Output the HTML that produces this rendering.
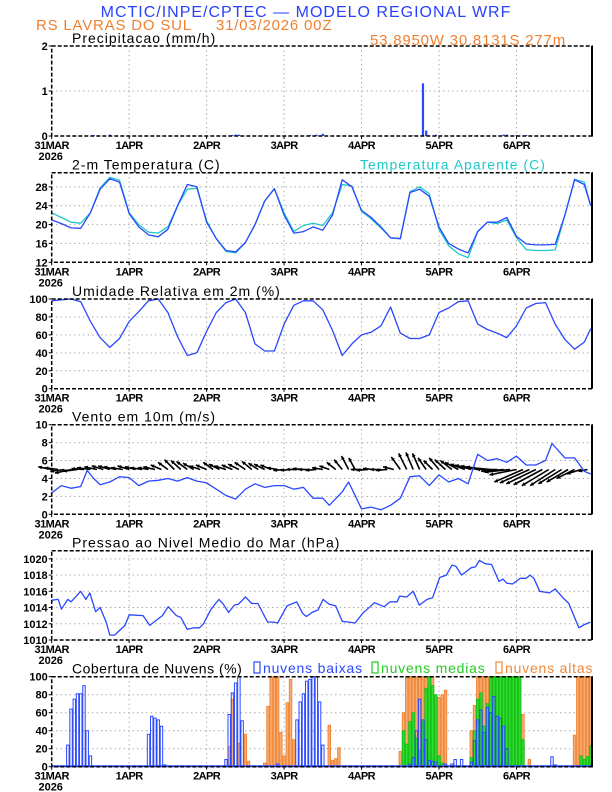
<!DOCTYPE html>
<html><head><meta charset="utf-8"><style>
html,body{margin:0;padding:0;background:#fff;}
svg{display:block;font-family:"Liberation Sans",sans-serif;}
.t{font-size:11px;font-weight:bold;fill:#000;}
.pt{font-size:14px;fill:#000;}
</style></head><body>
<svg id="chart" width="612" height="792" viewBox="0 0 612 792" xmlns="http://www.w3.org/2000/svg">
<text x="306" y="17" text-anchor="middle" font-size="16" fill="#2a40ff" letter-spacing="1">MCTIC/INPE/CPTEC — MODELO REGIONAL WRF</text>
<text x="36" y="30" font-size="15" fill="#f08030" letter-spacing="0.8">RS LAVRAS DO SUL</text>
<text x="216" y="30" font-size="15" fill="#f08030" letter-spacing="0.8">31/03/2026 00Z</text>
<text x="566" y="45" text-anchor="end" font-size="15" fill="#f08030" letter-spacing="0.8">53.8950W 30.8131S 277m</text>
<g id="plots"></g>
</svg>
<script>
// ---- data ----
const dayLabels = ["31MAR","1APR","2APR","3APR","4APR","5APR","6APR"];
const precipData = [[5,0.01],[13,0.02],[18,0.03],[56,0.02],[57,0.03],[58,0.03],[65,0.01],[80,0.02],[82,0.03],[84,0.05],[112,0.01],[115,1.17],[116,0.12],[119,0.03],[130,0.02],[140,0.03],[141,0.03],[144,0.02],[147,0.02]];
const tempData = [[0,21],[3,20.2],[6,19.3],[9,19.2],[12,22.5],[15,27.5],[18,29.7],[21,29],[24,22.3],[27,19.5],[30,17.8],[33,17.4],[36,19],[39,24],[42,28.5],[45,28],[48,20.5],[51,17],[54,14.5],[57,14.2],[60,16.2],[63,20],[66,25],[69,27.6],[72,22],[75,18.2],[78,18.5],[81,19.5],[84,18.8],[87,22],[90,29.5],[93,28],[96,23],[99,21.5],[102,19.5],[105,17.2],[108,17],[111,26.8],[114,27.5],[117,26],[120,19.5],[123,16],[126,14.8],[129,14],[132,18.5],[135,20.5],[138,20.5],[141,21.5],[144,17.5],[147,15.9],[150,15.7],[153,15.7],[156,15.8],[159,22],[162,29.5],[165,28.5],[167,24]];
const appData = [[0,22.5],[3,21.5],[6,20.5],[9,20.3],[12,22.5],[15,27.8],[18,30],[21,29.4],[24,22.5],[27,20],[30,18.4],[33,18.2],[36,19.5],[39,24],[42,27.5],[45,27.7],[48,20.8],[51,17],[54,14.3],[57,14],[60,16.2],[63,20],[66,25],[69,27.6],[72,22.5],[75,18.5],[78,19.8],[81,20.3],[84,19.8],[87,22.5],[90,28.5],[93,28.2],[96,22.8],[99,21.2],[102,19.3],[105,17.2],[108,17],[111,27],[114,28],[117,26.5],[120,19],[123,15.5],[126,13.8],[129,13],[132,18.5],[135,20.5],[138,20.2],[141,21],[144,17.2],[147,14.7],[150,14.5],[153,14.5],[156,14.6],[159,22],[162,29.6],[165,29],[167,24]];
const rhData = [[0,98],[3,99],[6,100],[9,97],[12,75],[15,57],[18,46],[21,56],[24,75],[27,86],[30,98],[33,100],[36,85],[39,58],[42,37],[45,40],[48,64],[51,85],[54,96],[57,100],[60,85],[63,50],[66,42],[69,42],[72,72],[75,93],[78,98],[81,98],[84,88],[87,65],[90,37],[93,50],[96,60],[99,63],[102,70],[105,91],[108,62],[111,56],[114,56],[117,60],[120,85],[123,90],[126,97],[129,98],[132,72],[135,66],[138,62],[141,57],[144,70],[147,90],[150,95],[153,96],[156,72],[159,55],[162,44],[165,52],[167,67]];
const windData = [[0,2.4],[3,3.2],[6,2.9],[9,3.1],[11,4.9],[13,4.0],[15,3.3],[18,3.6],[21,4.2],[24,4.1],[27,3.2],[30,3.7],[33,3.8],[36,4.0],[39,3.7],[42,4.1],[45,3.7],[48,3.5],[51,2.8],[54,2.1],[57,1.7],[60,2.8],[63,3.4],[66,3.0],[69,3.2],[72,3.2],[75,2.8],[78,3.0],[81,1.8],[84,1.8],[86,1.0],[90,2.5],[92,3.6],[96,0.6],[99,0.8],[102,0.5],[105,1.0],[108,1.8],[111,4.2],[114,4.3],[117,3.2],[120,4.4],[123,3.6],[126,4.0],[129,3.4],[132,6.7],[135,6.0],[138,6.2],[141,5.8],[144,6.5],[147,5.5],[150,5.5],[153,6.0],[155,7.9],[159,6.3],[162,6.3],[165,4.8],[167,4.5]];
const vecHours = [0,2,4,6,8,10,12,14,16,18,20,22,24,26,28,30,32,34,36,38,40,42,44,46,48,50,52,54,56,58,60,62,64,66,68,70,72,74,76,78,80,82,84,86,88,90,92,94,96,98,100,102,104,106,108,110,112,114,116,118,120,122,124,126,128,130,132,134,136,138,140,142,144,146,148,150,152,154,156,158,160,162,164,166];
const vecU = [-1.5,-1.5,-1.6,-1.8,-1.6,-1.4,-1.5,-1.4,-1.3,-1.3,-1.4,-1.3,-1.3,-1.2,-1.3,-1.2,-1.3,-1.2,-1.1,-1.1,-1.1,-1.2,-1.2,-1.2,-1.2,-1.1,-1.2,-1.3,-1.2,-1.2,-1.2,-1.1,-1.1,-1.2,-1.2,-1.2,-1.2,-1.1,-1.2,-1.2,-1.3,-1.2,-1.2,-1.1,-1.0,-0.9,-0.8,-0.7,-1.2,-1.3,-1.3,-1.2,-1.3,-1.2,-1.0,-0.9,-0.8,-0.8,-0.9,-1.0,-1.1,-1.2,-1.3,-1.5,-1.6,-1.8,-1.9,-2.0,-2.2,-2.3,-2.5,-2.8,-3.0,-3.2,-3.3,-3.3,-3.2,-3.0,-2.8,-2.6,-2.4,-2.0,-1.6,-1.0];
const vecV = [0.3,0.2,-0.2,-0.4,-0.2,0.1,0.2,0.3,0.4,0.4,0.3,0.2,0.4,0.3,0.2,0.2,0.3,0.5,0.8,1.1,1.0,0.9,0.7,0.4,0.5,0.8,0.6,0.4,0.5,0.6,0.8,0.9,0.7,0.6,0.5,0.2,-0.1,-0.1,0,0.1,0,-0.1,0.2,0.4,0.8,1.1,1.5,1.3,0,-0.1,0.1,0,-0.1,0.3,1.4,1.8,1.9,1.8,1.3,1.0,1.3,1.1,1.0,0.8,0.6,0.5,0.4,0.3,0.2,0,-0.2,-0.3,-0.6,-1.4,-1.5,-1.6,-1.7,-1.8,-1.8,-1.6,-1.4,-1.0,-0.5,-0.2];
const presData = [[0,1014.9],[2,1015],[3,1013.8],[5,1015],[6,1014.7],[9,1016],[10.6,1015],[11.8,1015.8],[13.6,1013.5],[15,1014],[16.9,1012.2],[18,1010.6],[19.5,1010.6],[22.7,1011.8],[24,1013.1],[28.3,1013],[30.4,1011.8],[32.3,1012.4],[34.3,1013],[36.1,1014.1],[38.6,1013],[40,1012.8],[42,1011.3],[44,1011.5],[45.8,1011.5],[47,1012],[49.4,1013.8],[51.8,1015],[53,1014.5],[54.8,1013.4],[56.6,1014.3],[57.8,1014.4],[60,1015.3],[62,1014.5],[63.9,1014.5],[66.9,1012.2],[68.7,1012.2],[70,1012.1],[72.9,1014.2],[75.9,1014.7],[77.7,1013.3],[78.9,1012.9],[80.7,1013.4],[82.5,1013.7],[84.1,1015],[86,1014.4],[88,1014.2],[90,1012.3],[92,1012.2],[94,1012.1],[96.4,1013.3],[100,1014.6],[103,1014.1],[104.8,1014.7],[107,1014.7],[107.8,1015.4],[110,1015.3],[112,1016],[113.9,1014.3],[116.3,1015],[118,1015.2],[120.2,1017.7],[122.3,1018],[124,1019.2],[125.2,1019.1],[127,1018],[130,1018.9],[131.3,1019],[132.5,1019.8],[134.3,1019.4],[136.3,1019.3],[138.6,1017.2],[139.8,1017.5],[141,1017],[142.8,1016.9],[145.2,1017.6],[147,1017.6],[148.2,1018],[149.4,1017.6],[151.2,1016],[154.2,1015.8],[156,1016.3],[158.4,1015.2],[160.2,1014.5],[163.3,1011.5],[165,1011.9],[166.9,1012.2]];
const cloudLow = [[5,24],[6,64],[7,75],[8,81],[9,81],[10,90],[11,40],[12,12],[30,36],[31,56],[32,54],[33,52],[34,45],[35,2],[54,8],[55,58],[56,82],[57,93],[58,100],[59,51],[70,3],[76,52],[77,72],[78,81],[79,95],[80,97],[81,100],[82,100],[83,72],[84,24],[111,3],[112,10],[113,40],[114,75],[115,52],[116,30],[117,7],[118,6],[119,5],[122,3],[124,3],[125,8],[127,8],[130,5],[131,29],[132,52],[133,63],[134,38],[135,66],[136,60],[137,78],[138,56],[139,54],[140,45],[141,20],[155,11],[156,2]];
const cloudMed = [[109,40],[110,25],[111,50],[112,60],[113,32],[114,18],[115,50],[116,87],[117,100],[118,90],[119,80],[120,12],[121,4],[130,10],[131,40],[132,75],[133,82],[134,45],[135,70],[136,100],[137,100],[138,100],[139,100],[140,100],[141,100],[142,100],[143,100],[144,100],[145,100],[146,30],[164,12],[165,8],[166,11],[167,23]];
const cloudHigh = [[55,22],[56,75],[58,26],[60,36],[61,6],[66,4],[67,67],[68,100],[69,100],[70,100],[71,38],[72,12],[73,71],[74,97],[75,30],[86,46],[87,7],[88,9],[89,21],[108,17],[109,60],[110,100],[111,100],[112,100],[113,100],[114,100],[115,100],[116,100],[117,100],[118,100],[119,75],[120,77],[121,80],[122,85],[130,40],[131,68],[132,100],[133,100],[134,100],[135,100],[136,100],[137,100],[138,100],[139,100],[140,100],[141,100],[142,100],[143,100],[144,100],[145,100],[146,58],[148,8],[162,35],[163,100],[164,100],[165,100],[166,100],[167,100]];
const precipTicks=[0,1,2], tempTicks=[12,16,20,24,28], rhTicks=[0,20,40,60,80,100], windTicks=[0,2,4,6,8,10], presTicks=[1010,1012,1014,1016,1018,1020], cloudTicks=[0,20,40,60,80,100];

// ---- drawing ----
const NS="http://www.w3.org/2000/svg";
const root=document.getElementById('plots');
const X0=51.7, X1=592, HMAX=167.4;
const PXH=(X1-X0)/HMAX;
function xs(h){return X0+h*PXH;}
function mk(tag,attrs,parent){const e=document.createElementNS(NS,tag);for(const k in attrs)e.setAttribute(k,attrs[k]);(parent||root).appendChild(e);return e;}
function panel(name,top,bot,min,max,ticks,title,ls){
  const g=mk('g',{});
  
  
  const ys=v=>bot-(v-min)/(max-min)*(bot-top);
  for(let d=1;d<7;d++){const l=mk('line',{x1:xs(d*24),x2:xs(d*24),y1:top,y2:bot,stroke:'#9a9a9a','stroke-dasharray':'1.2,3.3'},g);
    }
  ticks.forEach(t=>{const yy=ys(t);
    if(yy>top+1&&yy<bot-1){const l=mk('line',{x1:X0,x2:X1,y1:yy,y2:yy,stroke:'#9a9a9a','stroke-dasharray':'1.2,3.3'},g);
      }
    const tk=mk('line',{x1:X0-3,x2:X0,y1:yy,y2:yy,stroke:'#000','stroke-width':1},g);
    
    const tx=mk('text',{x:X0-4,y:yy+4,'text-anchor':'end',class:'t','font-size':12},g);tx.textContent=t;
    });
  dayLabels.forEach((lb,i)=>{const tx=mk('text',{x:xs(i*24),y:bot+13,'text-anchor':'middle',class:'t','font-size':12,'letter-spacing':'-0.6'},g);tx.textContent=lb;
    
    const tk=mk('line',{x1:xs(i*24),x2:xs(i*24),y1:bot,y2:bot+3,stroke:'#000'},g);
    });
  const yr=mk('text',{x:X0-1,y:bot+24,'text-anchor':'middle',class:'t','font-size':12},g);yr.textContent='2026';
  
  const tt=mk('text',{x:72,y:top-3,class:'pt','letter-spacing':ls||'1'},g);tt.textContent=title;
  
  return {g,ys,top,bot};
}
function frame(p){
  const f=mk('rect',{x:X0,y:p.top,width:X1-X0,height:p.bot-p.top,fill:'none',stroke:'#000','stroke-width':1.5,'stroke-dasharray':'4,2'},p.g);
  
  const r=mk('line',{x1:X1,x2:X1,y1:p.top,y2:p.bot,stroke:'#000','stroke-width':2},p.g);
  
}
function line(p,data,color,name,w){
  const d=data.map((v,i)=>(i?'L':'M')+xs(v[0]).toFixed(1)+','+p.ys(v[1]).toFixed(1)).join('');
  const e=mk('path',{d:d,fill:'none',stroke:color,'stroke-width':w||1.3,'stroke-linejoin':'round'},p.g);
  
}
// precip
const P1=panel('precip',46,136,0,2,precipTicks,'Precipitacao (mm/h)');
precipData.forEach(v=>{const y=P1.ys(v[1]);const b=mk('rect',{x:xs(v[0])-1,y:y,width:2.2,height:P1.bot-y,fill:'#2a48ff'},P1.g);
  });
frame(P1);
// temp
const P2=panel('temp',172.7,262.3,12,31,tempTicks,'2-m Temperatura (C)');
const at=mk('text',{x:360,y:169.5,'font-size':14,fill:'#20c8c8','letter-spacing':'1'},P2.g);at.textContent='Temperatura Aparente (C)';

line(P2,appData,'#20c8c8','apparent-temp-line');
line(P2,tempData,'#2a48ff','temp-line');
frame(P2);
// rh
const P3=panel('rh',299,388.7,0,100,rhTicks,'Umidade Relativa em 2m (%)');
line(P3,rhData,'#2a48ff','rh-line');
frame(P3);
// wind
const P4=panel('wind',424.7,514.3,0,10,windTicks,'Vento em 10m (m/s)');
const sc=(P4.bot-P4.top)/10;
vecHours.forEach((h,i)=>{const x=xs(h),y=P4.ys(5),x2=x+vecU[i]*sc,y2=y-vecV[i]*sc;
  const l=mk('line',{x1:x,y1:y,x2:x2,y2:y2,stroke:'#000','stroke-width':1.6},P4.g);
  
  const a=Math.atan2(y2-y,x2-x),s=4;
  const hd=mk('path',{d:`M${x2},${y2}L${x2-s*Math.cos(a-0.5)},${y2-s*Math.sin(a-0.5)}L${x2-s*Math.cos(a+0.5)},${y2-s*Math.sin(a+0.5)}Z`,fill:'#000'},P4.g);
  });
line(P4,windData,'#2a48ff','wind-speed-line');
frame(P4);
// pressure
const P5=panel('pressure',550.7,640,1010,1021,presTicks,'Pressao ao Nivel Medio do Mar (hPa)');
line(P5,presData,'#2a48ff','pressure-line');
frame(P5);
// clouds
const P6=panel('cloud',676.7,766.7,0,100,cloudTicks,'Cobertura de Nuvens (%)','0.5');
function bars(data,fill,stroke,name){data.forEach(v=>{const y=P6.ys(v[1]);
  const b=mk('rect',{x:xs(v[0])-PXH/2+0.4,y:y,width:PXH-0.8,height:P6.bot-y,fill:fill,stroke:stroke,'stroke-width':1},P6.g);
  });}
bars(cloudHigh,'#f6ad78','#f08838','high-cloud-bar');
bars(cloudMed,'#30dd30','#18c018','medium-cloud-bar');
bars(cloudLow,'none','#2a48ff','low-cloud-bar');
const bl=mk('line',{x1:X0,x2:X1,y1:P6.bot-0.5,y2:P6.bot-0.5,stroke:'#2a48ff','stroke-width':2},P6.g);

const legend=[['nuvens baixas','#2a48ff',254],['nuvens medias','#22cc22',372],['nuvens altas','#f08838',496]];
legend.forEach(L=>{const r=mk('rect',{x:L[2],y:662,width:6,height:11,fill:'none',stroke:L[1],'stroke-width':1.2},P6.g);
  
  const t=mk('text',{x:L[2]+9,y:673,'font-size':14,fill:L[1],'letter-spacing':'0.8'},P6.g);t.textContent=L[0];
  });
frame(P6);
</script>
</body></html>
